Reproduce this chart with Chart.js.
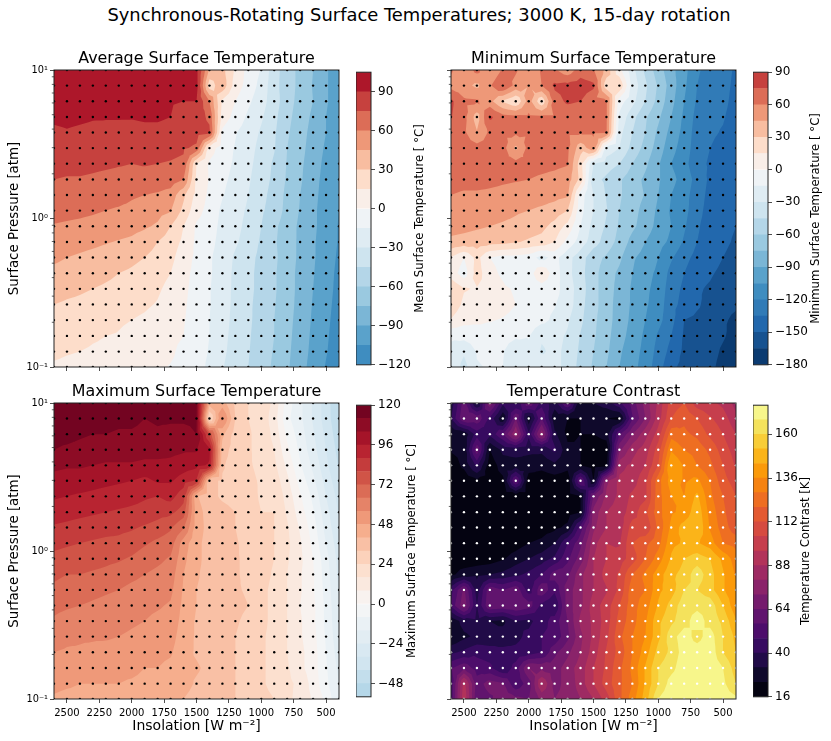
<!DOCTYPE html>
<html>
<head>
<meta charset="utf-8">
<title>Synchronous-Rotating Surface Temperatures</title>
<script src="https://cdn.jsdelivr.net/npm/chart.js@4/dist/chart.umd.js"></script>
<style>
  html, body { margin: 0; padding: 0; background: #fff; overflow: hidden; }
  #page { position: relative; width: 831px; height: 741px; }
  #page canvas { position: absolute; }
  #suptitle { position: absolute; left: 0; top: 4px; width: 838px; text-align: center;
    font: 17.9px "DejaVu Sans", sans-serif; color: #000; white-space: nowrap; }
</style>
</head>
<body>
<div id="page"><div id="suptitle">Synchronous-Rotating Surface Temperatures; 3000 K, 15-day rotation</div></div>
<script>
// grid of the simulations: columns are insolation, rows are pressure (top row = 10 atm)
const insolation = [2600, 2500, 2400, 2300, 2200, 2100, 2000, 1900, 1800, 1700, 1600, 1500, 1400, 1300, 1200, 1100, 1000, 900, 800, 700, 600, 500, 400];
const pressure = [10, 7.85, 6.16, 4.83, 3.79, 2.98, 2.34, 1.83, 1.44, 1.13, 0.886, 0.695, 0.546, 0.428, 0.336, 0.264, 0.207, 0.162, 0.127, 0.1];

const avgTemp = [
  [100,100,100,100,100,100,100,100,100,100,100,95,42,35,12,-5,-16,-39,-53,-64,-75,-88,-100],
  [100,100,100,100,100,100,100,100,100,100,100,95,22,40,8,-6,-20,-40,-53,-64,-76,-88,-101],
  [98,98,98,98,97,97,96,94,93,91,90,90,60,12,0,-12,-24,-38,-54,-65,-75,-88,-100],
  [92,93,92,91,91,91,91,92,92,90,84,82,72,8,-5,-18,-28,-41,-56,-67,-78,-90,-102],
  [88,89,88,87,86,86,85,86,86,85,84,82,78,-3,-14,-22,-32,-43,-58,-69,-80,-90,-100],
  [84,84,84,83,82,82,81,75,80,79,77,72,8,-8,-16,-24,-35,-44,-60,-70,-82,-92,-102],
  [79,79,79,78,77,76,75,76,75,74,72,15,-2,-10,-17,-26,-37,-47,-61,-72,-83,-94,-103],
  [75,74,74,73,72,71,71,70,69,68,60,12,-1,-12,-19,-28,-39,-48,-62,-73,-85,-95,-104],
  [70,69,69,68,67,66,62,60,58,54,33,10,-3,-14,-22,-30,-41,-50,-64,-75,-86,-96,-105],
  [65,64,63,62,60,58,56,53,50,46,26,5,-5,-18,-25,-32,-43,-51,-65,-76,-87,-97,-105],
  [59,58,57,55,53,52,50,47,43,30,15,-2,-7,-20,-26,-34,-45,-57,-67,-78,-87,-97,-106],
  [54,52,50,48,46,44,42,37,30,22,12,-3,-10,-21,-28,-36,-47,-58,-68,-78,-88,-98,-106],
  [48,45,43,41,39,36,33,30,25,19,7,-3,-13,-22,-32,-40,-49,-57,-68,-78,-88,-99,-107],
  [41,39,37,35,33,30,28,25,20,15,4,-4,-13,-23,-33,-41,-50,-58,-69,-79,-89,-100,-108],
  [37,34,32,30,28,26,24,21,17,11,3,-5,-14,-24,-33,-41,-50,-58,-69,-79,-90,-100,-109],
  [30,28,27,25,23,21,19,17,14,8,2,-6,-14,-25,-33,-42,-51,-59,-69,-80,-91,-101,-110],
  [27,25,23,21,20,17,15,13,10,6,1,-7,-15,-25,-34,-42,-52,-60,-70,-81,-92,-102,-111],
  [22,21,20,17,15,14,11,9,7,4,0,-8,-15,-26,-35,-43,-53,-60,-71,-82,-93,-103,-112],
  [18,16,15,13,12,11,9,7,5,3,-5,-9,-16,-27,-36,-44,-54,-61,-72,-83,-94,-104,-113],
  [13,12,11,10,9,8,6,5,3,-1,-5,-9,-18,-29,-38,-45,-55,-62,-73,-84,-96,-106,-115]
];

const minTemp = [
  [62,48,65,45,62,62,48,62,62,50,68,62,40,5,-25,-48,-68,-85,-100,-118,-125,-130,-137],
  [55,50,42,58,76,55,46,60,78,80,82,78,20,28,-20,-42,-62,-82,-102,-120,-128,-131,-138],
  [78,63,62,50,28,15,52,18,68,78,75,64,62,-8,-25,-45,-65,-85,-105,-122,-130,-132,-139],
  [76,65,38,78,66,64,63,62,62,62,62,62,62,-18,-40,-58,-72,-90,-108,-125,-132,-134,-140],
  [63,63,46,63,63,63,62,62,62,62,62,62,61,-25,-45,-60,-78,-95,-110,-127,-133,-136,-142],
  [66,67,66,65,66,42,65,64,63,63,36,55,-20,-30,-50,-65,-82,-100,-112,-128,-135,-139,-143],
  [68,67,67,66,65,65,65,64,63,61,22,-30,-38,-45,-60,-72,-88,-105,-115,-130,-137,-142,-144],
  [66,65,65,64,62,61,60,58,56,53,25,-40,-48,-58,-68,-78,-88,-100,-112,-125,-138,-143,-145],
  [60,58,58,57,56,55,54,52,50,47,-8,-30,-46,-58,-68,-76,-90,-105,-115,-127,-140,-144,-147],
  [55,54,53,52,50,47,45,42,38,30,-10,-30,-44,-60,-70,-80,-93,-107,-115,-130,-141,-145,-148],
  [50,49,47,45,43,41,37,34,25,10,-15,-35,-47,-62,-72,-82,-95,-105,-118,-133,-142,-146,-150],
  [42,40,38,36,35,31,28,25,15,-5,-22,-38,-52,-65,-80,-90,-100,-108,-122,-135,-143,-147,-152],
  [14,0,20,0,-5,-5,-8,-20,-10,-25,-38,-55,-62,-72,-88,-95,-105,-118,-130,-140,-143,-150,-155],
  [8,-8,22,5,-3,-15,-8,14,-8,-25,-40,-55,-68,-78,-90,-100,-108,-125,-135,-145,-148,-154,-157],
  [28,16,14,10,3,-2,-8,-8,-10,-22,-38,-55,-68,-80,-92,-102,-110,-128,-138,-148,-152,-158,-160],
  [25,12,10,8,5,0,-5,-10,-14,-22,-40,-55,-68,-82,-92,-103,-112,-130,-140,-148,-155,-161,-163],
  [14,5,3,1,-1,-4,-7,-11,-18,-28,-42,-57,-68,-83,-93,-105,-115,-130,-150,-153,-155,-163,-168],
  [-12,-10,-8,-6,-8,-12,-14,-28,-25,-32,-46,-58,-70,-85,-95,-108,-122,-135,-152,-155,-157,-163,-172],
  [-20,-28,-14,-12,-14,-28,-18,-32,-26,-34,-48,-60,-72,-88,-98,-110,-125,-140,-153,-156,-158,-168,-175],
  [-18,-35,-16,-14,-15,-20,-18,-20,-25,-35,-50,-62,-75,-90,-100,-112,-128,-147,-154,-157,-160,-172,-178]
];

const maxTemp = [
  [118,118,117,117,116,116,115,115,115,115,115,114,44,44,30,24,21,14,-4,-14,-25,-36,-48],
  [116,116,115,115,115,114,114,112,113,113,113,113,22,58,32,24,21,12,-6,-14,-25,-36,-47],
  [114,114,113,112,112,111,111,110,111,110,110,112,78,42,28,25,21,14,-2,-12,-23,-34,-45],
  [112,111,110,109,108,108,108,107,107,106,105,105,98,36,28,25,21,16,2,-10,-21,-32,-43],
  [106,105,105,104,103,103,103,102,102,102,100,98,95,33,28,25,22,18,6,-7,-18,-30,-41],
  [101,100,100,99,98,97,96,94,97,97,92,87,34,31,29,26,23,21,10,-3,-14,-27,-38],
  [97,96,95,94,93,92,91,89,88,91,83,41,34,31,30,27,23,23,13,1,-10,-24,-35],
  [92,91,90,89,88,87,86,85,83,82,76,44,36,34,32,27,24,24,15,4,-7,-21,-33],
  [87,86,85,84,83,82,81,79,77,73,65,44,37,35,32,28,25,24,17,7,-4,-19,-31],
  [82,81,80,79,78,78,76,73,70,68,52,42,37,36,33,29,27,24,18,9,-2,-16,-29],
  [78,77,76,75,74,73,71,68,66,63,50,42,37,36,33,30,27,24,17,10,0,-13,-27],
  [74,72,72,71,70,68,66,64,62,60,48,41,37,35,33,30,27,23,16,9,1,-12,-26],
  [70,68,67,66,65,64,62,61,60,58,47,40,37,35,33,31,26,22,16,9,1,-11,-25],
  [66,65,64,63,62,61,60,58,57,55,46,40,36,35,34,32,26,22,16,8,2,-10,-24],
  [63,61,60,59,59,58,57,56,54,53,45,39,36,35,33,30,26,22,16,9,2,-10,-23],
  [60,58,57,57,57,56,55,54,52,51,44,39,36,34,32,29,25,22,16,9,3,-9,-22],
  [56,55,55,54,53,53,52,52,50,49,43,39,36,34,32,29,25,22,16,10,4,-8,-20],
  [53,52,51,51,51,50,50,48,48,46,42,41,38,35,32,29,25,22,17,10,4,-7,-18],
  [50,49,48,48,48,48,47,46,46,44,43,39,37,35,32,29,25,22,18,14,5,-6,-16],
  [47,46,46,45,45,44,44,44,43,42,40,37,35,34,32,29,26,24,18,13,7,-2,-16]
];

const contrast = [
  [35,60,30,70,42,40,62,45,36,58,24,32,36,46,60,75,90,108,112,100,98,94,85],
  [40,64,62,46,25,64,26,56,26,24,24,24,24,22,55,72,92,112,118,112,105,100,90],
  [24,26,44,42,56,80,42,78,34,22,24,24,28,55,72,85,100,125,122,118,110,104,96],
  [25,26,62,24,34,36,34,34,42,26,24,18,18,70,85,92,108,135,128,125,118,108,100],
  [19,26,42,19,28,28,28,26,30,26,24,20,22,85,90,96,112,145,135,128,122,112,103],
  [18,18,22,20,22,58,20,20,20,20,58,24,78,90,92,102,125,140,135,138,128,115,108],
  [18,18,18,18,18,18,19,19,19,20,24,65,82,90,98,102,125,136,136,146,130,120,112],
  [18,18,18,18,18,18,18,18,18,20,24,75,88,92,100,110,125,135,138,150,133,122,112],
  [18,18,18,18,18,18,18,20,22,26,52,78,88,92,108,105,122,138,148,152,135,124,115],
  [18,18,18,18,18,20,24,26,32,48,62,85,96,95,112,118,125,142,145,145,140,128,125],
  [18,18,19,20,23,28,32,36,42,54,68,88,96,100,108,120,132,145,152,156,152,142,132],
  [22,28,30,32,34,38,42,48,60,62,78,88,100,105,120,130,140,150,155,165,155,145,135],
  [45,66,36,62,56,62,44,62,50,68,78,88,95,106,125,128,142,148,160,160,155,145,138],
  [50,70,40,64,62,64,60,46,40,68,78,92,100,112,125,132,145,155,165,166,165,152,138],
  [25,36,38,32,30,40,38,44,52,64,82,90,100,115,125,135,150,158,165,172,165,158,145],
  [24,30,34,34,36,38,42,48,50,62,78,90,102,118,128,136,150,165,172,165,172,160,150],
  [38,42,46,44,42,42,44,48,62,70,80,92,105,115,128,140,155,162,172,172,174,160,152],
  [55,62,52,50,40,52,72,70,68,76,84,96,106,118,130,145,160,165,174,176,174,168,156],
  [50,92,60,68,65,50,60,88,70,74,84,96,108,118,128,145,160,172,176,176,174,170,160],
  [50,95,58,62,70,66,64,74,72,74,80,88,100,118,132,148,168,175,176,174,176,172,170]
];

// contour levels and colourbar ticks
const avgLevels = [-120,-105,-90,-75,-60,-45,-30,-15,0,15,30,45,60,75,90,105];
const minLevels = [-180,-165,-150,-135,-120,-105,-90,-75,-60,-45,-30,-15,0,15,30,45,60,75,90];
const maxLevels = [-56,-48,-40,-32,-24,-16,-8,0,8,16,24,32,40,48,56,64,72,80,88,96,104,112,120];
const contrastLevels = [16,24,32,40,48,56,64,72,80,88,96,104,112,120,128,136,144,152,160,168,176];
const avgTicks = [-120,-90,-60,-30,0,30,60,90];
const minTicks = [-180,-150,-120,-90,-60,-30,0,30,60,90];
const maxTicks = [-48,-24,0,24,48,72,96,120];
const contrastTicks = [16,40,64,88,112,136,160];

// axis ticks
const xTicks = [2500, 2250, 2000, 1750, 1500, 1250, 1000, 750, 500];
const yTicks = [0.1, 1, 10];
const yTickLabels = ['10\u207B\u00B9', '10\u2070', '10\u00B9'];
const yMinorTicks = [0.2,0.3,0.4,0.5,0.6,0.7,0.8,0.9,2,3,4,5,6,7,8,9];

const RDBU = ['#053061','#2166ac','#4393c3','#92c5de','#d1e5f0','#f7f7f7','#fddbc7','#f4a582','#d6604d','#b2182b','#67001f'];
const INFERNO = ['#000004','#08061d','#160b39','#2b0b57','#420a68','#57106e','#6a176e','#801f6c','#932667','#a82e5f','#bc3754',
    '#cf4446','#dd513a','#e8632a','#f37819','#f98e09','#fca50a','#fac228','#f6d746','#f1ed71','#fcffa4'];
const FONT = '"DejaVu Sans", sans-serif';
const AXIS = '#222';

function hex(c) {
    return [1, 3, 5].map(i => parseInt(c.substr(i, 2), 16));
}

function sample(stops, t) {
    t = Math.max(0, Math.min(1, t)) * (stops.length - 1);
    const i = Math.min(Math.floor(t), stops.length - 2);
    const a = hex(stops[i]), b = hex(stops[i + 1]);
    const c = a.map((v, k) => Math.round(v + (b[k] - v) * (t - i)));
    return `rgb(${c[0]},${c[1]},${c[2]})`;
}

// temperature maps use a diverging scale pinned at 0 (-180 .. 120)
const tempColor = v => sample(RDBU, v < 0 ? 0.5 + 0.5 * v / 180 : 0.5 + 0.5 * v / 120);
const contrastColor = v => sample(INFERNO, (v - 16) / 160);

function bandColors(levels, colorFn) {
    return levels.slice(0, -1).map((lo, i) => colorFn((lo + levels[i + 1]) / 2));
}

// keep the part of a triangle where value >= lo, vertices are [px, py, value]
function clipAbove(poly, lo) {
    const out = [];
    for (let i = 0; i < poly.length; i++) {
        const a = poly[i], b = poly[(i + 1) % poly.length];
        if (a[2] >= lo) out.push(a);
        if ((a[2] >= lo) !== (b[2] >= lo)) {
            const t = (lo - a[2]) / (b[2] - a[2]);
            out.push([a[0] + (b[0] - a[0]) * t, a[1] + (b[1] - a[1]) * t, lo]);
        }
    }
    return out;
}

// filled contours, painted low to high through the chart's own scales
function contourPlugin(z, levels, colors) {
    return {
        id: 'contour',
        beforeDatasetsDraw(chart) {
            const { ctx, chartArea: area, scales } = chart;
            const xs = insolation.map(v => scales.x.getPixelForValue(v));
            const ys = pressure.map(v => scales.y.getPixelForValue(v));
            ctx.save();
            ctx.beginPath();
            ctx.rect(area.left, area.top, area.right - area.left, area.bottom - area.top);
            ctx.clip();
            colors.forEach((color, n) => {
                const lo = n === 0 ? -Infinity : levels[n];
                ctx.beginPath();
                for (let r = 0; r < ys.length - 1; r++) {
                    for (let c = 0; c < xs.length - 1; c++) {
                        const p = [
                            [xs[c], ys[r], z[r][c]],
                            [xs[c + 1], ys[r], z[r][c + 1]],
                            [xs[c + 1], ys[r + 1], z[r + 1][c + 1]],
                            [xs[c], ys[r + 1], z[r + 1][c]]
                        ];
                        const mid = [(xs[c] + xs[c + 1]) / 2, (ys[r] + ys[r + 1]) / 2,
                            (p[0][2] + p[1][2] + p[2][2] + p[3][2]) / 4];
                        for (let k = 0; k < 4; k++) {
                            const poly = clipAbove([p[k], p[(k + 1) % 4], mid], lo);
                            poly.forEach((q, i) => i ? ctx.lineTo(q[0], q[1]) : ctx.moveTo(q[0], q[1]));
                            if (poly.length) ctx.closePath();
                        }
                    }
                }
                ctx.fillStyle = color;
                ctx.fill();
            });
            ctx.restore();
        }
    };
}

// axes frame and the small log ticks
const framePlugin = {
    id: 'frame',
    afterDraw(chart) {
        const { ctx, chartArea: a, scales } = chart;
        ctx.save();
        ctx.strokeStyle = AXIS;
        ctx.lineWidth = 1;
        ctx.strokeRect(a.left, a.top, a.right - a.left, a.bottom - a.top);
        if (scales.y.type === 'logarithmic') {
            ctx.lineWidth = 0.7;
            ctx.beginPath();
            yMinorTicks.forEach(v => {
                const y = scales.y.getPixelForValue(v);
                ctx.moveTo(a.left, y);
                ctx.lineTo(a.left - 2.2, y);
            });
            ctx.stroke();
        }
        ctx.restore();
    }
};

function fixedTicks(values) {
    return scale => { scale.ticks = values.map(v => ({ value: v })); };
}

function drawPanel(p) {
    const marginL = 54, marginT = 24, marginR = 6;
    const marginB = p.bottomRow ? 37 : 8;
    const canvas = document.createElement('canvas');
    canvas.width = marginL + p.w + marginR;
    canvas.height = marginT + p.h + marginB;
    canvas.style.left = (p.x - marginL) + 'px';
    canvas.style.top = (p.y - marginT) + 'px';
    document.getElementById('page').appendChild(canvas);

    const dots = [];
    pressure.forEach(y => insolation.forEach(x => dots.push({ x, y })));

    new Chart(canvas, {
        type: 'scatter',
        data: {
            datasets: [{
                data: dots,
                pointRadius: 1.2,
                pointBorderWidth: 0,
                pointBackgroundColor: p.dotColor
            }]
        },
        options: {
            responsive: false,
            animation: false,
            layout: { padding: { right: marginR } },
            events: [],
            plugins: {
                legend: { display: false },
                tooltip: { enabled: false },
                title: {
                    display: true,
                    fullSize: false,
                    text: p.title,
                    color: '#000',
                    font: { family: FONT, size: 15.9, weight: 'normal', lineHeight: 1.2 },
                    padding: { top: 3.5, bottom: marginT - 19.08 - 3.5 }
                }
            },
            scales: {
                x: {
                    type: 'linear',
                    reverse: true,
                    min: 400,
                    max: 2600,
                    afterBuildTicks: fixedTicks(xTicks),
                    afterFit: s => { s.height = marginB; },
                    grid: { drawOnChartArea: false, tickLength: 4, tickColor: AXIS, tickWidth: 0.8 },
                    border: { display: false },
                    ticks: {
                        autoSkip: false, maxRotation: 0, padding: 4, color: '#000',
                        font: { family: FONT, size: 10 },
                        callback: v => p.bottomRow ? String(v) : ''
                    },
                    title: {
                        display: p.bottomRow,
                        text: 'Insolation [W m\u207B\u00B2]',
                        color: '#000',
                        font: { family: FONT, size: 14 },
                        padding: { top: 0, bottom: 1 }
                    }
                },
                y: {
                    type: 'logarithmic',
                    min: 0.1,
                    max: 10,
                    afterBuildTicks: fixedTicks(yTicks),
                    afterFit: s => { s.width = marginL; },
                    grid: { drawOnChartArea: false, tickLength: 4, tickColor: AXIS, tickWidth: 0.8 },
                    border: { display: false },
                    ticks: {
                        autoSkip: false, padding: 2, color: '#000',
                        font: { family: FONT, size: 9.8 },
                        callback: v => p.leftCol ? yTickLabels[yTicks.indexOf(v)] : ''
                    },
                    title: {
                        display: p.leftCol,
                        text: 'Surface Pressure [atm]',
                        color: '#000',
                        font: { family: FONT, size: 13.4 },
                        padding: { top: 6, bottom: 0 }
                    }
                }
            }
        },
        plugins: [contourPlugin(p.z, p.levels, p.colors), framePlugin]
    });
}

function drawColorbar(p) {
    const pad = 8, barW = 15, canvasW = p.labelX + 12 - p.barX;
    const canvas = document.createElement('canvas');
    canvas.width = canvasW;
    canvas.height = p.h + pad * 2;
    canvas.style.left = p.barX + 'px';
    canvas.style.top = (p.y - pad) + 'px';
    document.getElementById('page').appendChild(canvas);

    const datasets = p.colors.map((color, i) => ({
        data: [[p.levels[i], p.levels[i + 1]]],
        backgroundColor: color,
        borderWidth: 0,
        barPercentage: 1,
        categoryPercentage: 1
    }));

    const labelPlugin = {
        id: 'barLabel',
        afterDraw(chart) {
            const { ctx, chartArea: a } = chart;
            ctx.save();
            ctx.translate(p.labelX - p.barX, (a.top + a.bottom) / 2);
            ctx.rotate(-Math.PI / 2);
            ctx.fillStyle = '#000';
            ctx.font = `11.7px ${FONT}`;
            ctx.textAlign = 'center';
            ctx.textBaseline = 'middle';
            ctx.fillText(p.barLabel, 0, 0);
            ctx.restore();
        }
    };

    new Chart(canvas, {
        type: 'bar',
        data: { labels: [''], datasets },
        options: {
            responsive: false,
            animation: false,
            events: [],
            layout: { padding: { top: pad, bottom: pad } },
            plugins: { legend: { display: false }, tooltip: { enabled: false } },
            scales: {
                x: { display: false, stacked: true },
                y: {
                    position: 'right',
                    min: p.levels[0],
                    max: p.levels[p.levels.length - 1],
                    afterBuildTicks: fixedTicks(p.ticks),
                    afterFit: s => { s.width = canvasW - barW; },
                    grid: { drawOnChartArea: false, tickLength: 4, tickColor: AXIS, tickWidth: 0.8 },
                    border: { display: false },
                    ticks: {
                        autoSkip: false, padding: 3, color: '#000',
                        font: { family: FONT, size: 12 },
                        callback: v => String(v).replace('-', '\u2212')
                    }
                }
            }
        },
        plugins: [framePlugin, labelPlugin]
    });
}

const panels = [
    { title: 'Average Surface Temperature', z: avgTemp, levels: avgLevels, ticks: avgTicks,
      colors: bandColors(avgLevels, tempColor), x: 54, y: 70, w: 285, h: 297, dotColor: '#000',
      leftCol: true, bottomRow: false, barX: 356, labelX: 420, barLabel: 'Mean Surface Temperature [ \u00B0C]' },
    { title: 'Minimum Surface Temperature', z: minTemp, levels: minLevels, ticks: minTicks,
      colors: bandColors(minLevels, tempColor), x: 451, y: 70, w: 285, h: 297, dotColor: '#000',
      leftCol: false, bottomRow: false, barX: 753, labelX: 816, barLabel: 'Minimum Surface Temperature [ \u00B0C]' },
    { title: 'Maximum Surface Temperature', z: maxTemp, levels: maxLevels, ticks: maxTicks,
      colors: bandColors(maxLevels, tempColor), x: 54, y: 403, w: 285, h: 296, dotColor: '#000',
      leftCol: true, bottomRow: true, barX: 356, labelX: 412, barLabel: 'Maximum Surface Temperature [ \u00B0C]' },
    { title: 'Temperature Contrast', z: contrast, levels: contrastLevels, ticks: contrastTicks,
      colors: bandColors(contrastLevels, contrastColor), x: 451, y: 403, w: 285, h: 296, dotColor: '#fff',
      leftCol: false, bottomRow: true, barX: 753, labelX: 806, barLabel: 'Temperature Contrast [K]' }
];

panels.forEach(p => {
    drawPanel(p);
    drawColorbar(p);
});
</script>
</body>
</html>
